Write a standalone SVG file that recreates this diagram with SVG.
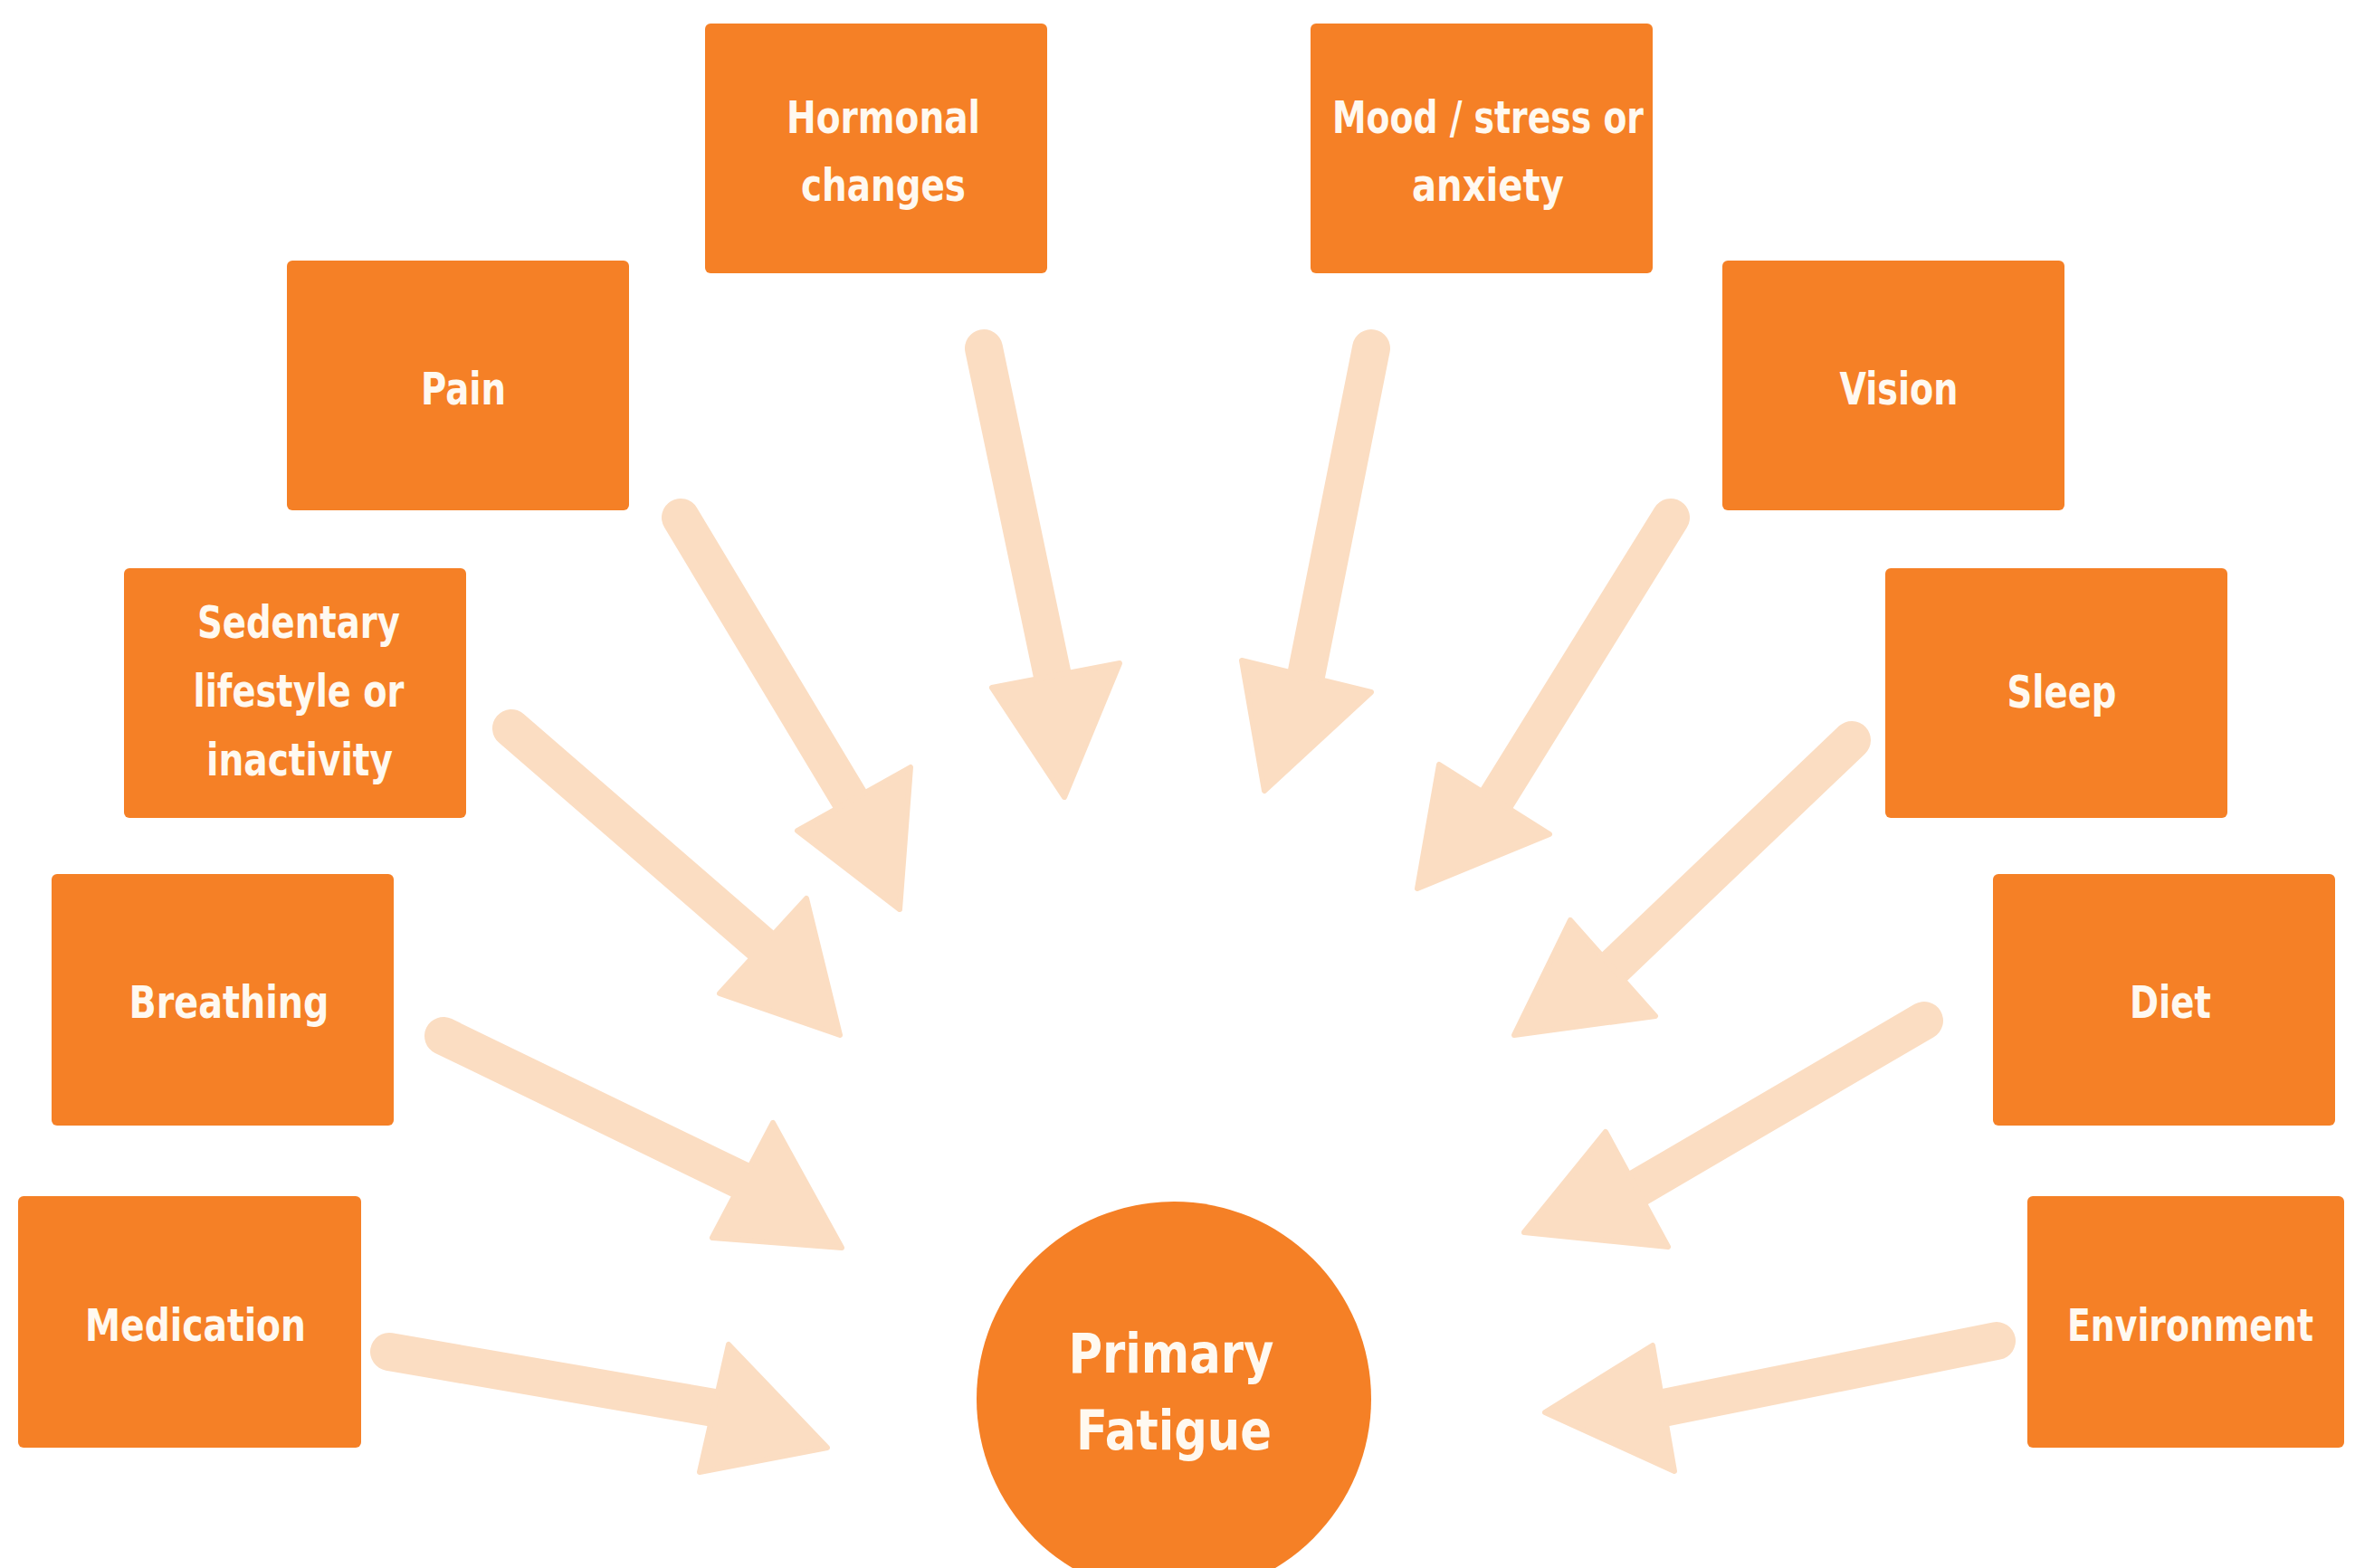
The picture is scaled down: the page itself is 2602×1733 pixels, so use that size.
<svg xmlns="http://www.w3.org/2000/svg" width="2602" height="1733" viewBox="0 0 2602 1733">
<style>
.box{fill:#F58026}
.lbl{font-family:"Liberation Sans Narrow","DejaVu Sans Condensed","Liberation Sans",sans-serif;font-weight:bold;font-size:50px;fill:#FFF9F0;text-anchor:middle}
.big{font-size:60px}
.shaft{stroke:#FBDDC2;stroke-width:42;stroke-linecap:round;fill:none}
.head{fill:#FBDDC2;stroke:#FBDDC2;stroke-width:6;stroke-linejoin:round}
</style>
<rect width="2602" height="1733" fill="#FFFFFF"/>
<g id="connectors">
  <!-- Hormonal -->
  <line class="shaft" x1="1087" y1="385" x2="1164" y2="752"/>
  <polygon class="head" points="1096,760 1237,733 1176,881"/>
  <!-- Mood -->
  <line class="shaft" x1="1515" y1="385" x2="1442" y2="752"/>
  <polygon class="head" points="1372,730 1515,765 1397,874"/>
  <!-- Pain -->
  <line class="shaft" x1="752" y1="572" x2="940" y2="885"/>
  <polygon class="head" points="881,918 1006,848 994,1005"/>
  <!-- Vision -->
  <line class="shaft" x1="1846" y1="572" x2="1652" y2="885"/>
  <polygon class="head" points="1712,922 1590,845 1566,982"/>
  <!-- Sedentary -->
  <line class="shaft" x1="565" y1="805" x2="843" y2="1046"/>
  <polygon class="head" points="795,1098 891,993 928,1144"/>
  <!-- Sleep -->
  <line class="shaft" x1="2046" y1="818" x2="1782" y2="1070"/>
  <polygon class="head" points="1735,1017 1829,1123 1673,1144"/>
  <!-- Breathing -->
  <line class="shaft" x1="490" y1="1145" x2="820" y2="1305"/>
  <polygon class="head" points="854,1241 787,1368 930,1379"/>
  <!-- Diet -->
  <line class="shaft" x1="2126" y1="1128" x2="1808" y2="1314"/>
  <polygon class="head" points="1774,1251 1843,1378 1684,1362"/>
  <!-- Medication -->
  <line class="shaft" x1="430" y1="1494" x2="789" y2="1556"/>
  <polygon class="head" points="805,1486 773,1627 914,1600"/>
  <!-- Environment -->
  <line class="shaft" x1="2206" y1="1482" x2="1838" y2="1556"/>
  <polygon class="head" points="1826,1487 1850,1626 1707,1561"/>
</g>
<g id="node-hormonal">
  <rect class="box" x="779" y="26" width="378" height="276" rx="6"/>
  <text class="lbl" x="976" y="147" textLength="214" lengthAdjust="spacingAndGlyphs">Hormonal</text>
  <text class="lbl" x="976" y="222" textLength="182" lengthAdjust="spacingAndGlyphs">changes</text>
</g>
<g id="node-mood">
  <rect class="box" x="1448" y="26" width="378" height="276" rx="6"/>
  <text class="lbl" x="1644" y="147" textLength="344" lengthAdjust="spacingAndGlyphs">Mood / stress or</text>
  <text class="lbl" x="1644" y="222" textLength="168" lengthAdjust="spacingAndGlyphs">anxiety</text>
</g>
<g id="node-pain">
  <rect class="box" x="317" y="288" width="378" height="276" rx="6"/>
  <text class="lbl" x="512" y="447" textLength="94" lengthAdjust="spacingAndGlyphs">Pain</text>
</g>
<g id="node-vision">
  <rect class="box" x="1903" y="288" width="378" height="276" rx="6"/>
  <text class="lbl" x="2098" y="447" textLength="131" lengthAdjust="spacingAndGlyphs">Vision</text>
</g>
<g id="node-sedentary">
  <rect class="box" x="137" y="628" width="378" height="276" rx="6"/>
  <text class="lbl" x="330" y="705" textLength="224" lengthAdjust="spacingAndGlyphs">Sedentary</text>
  <text class="lbl" x="330" y="781" textLength="233" lengthAdjust="spacingAndGlyphs">lifestyle or</text>
  <text class="lbl" x="331" y="857" textLength="206" lengthAdjust="spacingAndGlyphs">inactivity</text>
</g>
<g id="node-sleep">
  <rect class="box" x="2083" y="628" width="378" height="276" rx="6"/>
  <text class="lbl" x="2278" y="782" textLength="121" lengthAdjust="spacingAndGlyphs">Sleep</text>
</g>
<g id="node-breathing">
  <rect class="box" x="57" y="966" width="378" height="278" rx="6"/>
  <text class="lbl" x="253" y="1125" textLength="221" lengthAdjust="spacingAndGlyphs">Breathing</text>
</g>
<g id="node-diet">
  <rect class="box" x="2202" y="966" width="378" height="278" rx="6"/>
  <text class="lbl" x="2398" y="1125" textLength="90" lengthAdjust="spacingAndGlyphs">Diet</text>
</g>
<g id="node-medication">
  <rect class="box" x="20" y="1322" width="379" height="278" rx="6"/>
  <text class="lbl" x="216" y="1482" textLength="244" lengthAdjust="spacingAndGlyphs">Medication</text>
</g>
<g id="node-environment">
  <rect class="box" x="2240" y="1322" width="350" height="278" rx="6"/>
  <text class="lbl" x="2420" y="1482" font-size="46" textLength="272" lengthAdjust="spacingAndGlyphs">Environment</text>
</g>
<g id="node-primary-fatigue">
  <circle class="box" cx="1297" cy="1546" r="218"/>
  <text class="lbl big" x="1294" y="1517" textLength="227" lengthAdjust="spacingAndGlyphs">Primary</text>
  <text class="lbl big" x="1297" y="1602" textLength="216" lengthAdjust="spacingAndGlyphs">Fatigue</text>
</g>
</svg>
